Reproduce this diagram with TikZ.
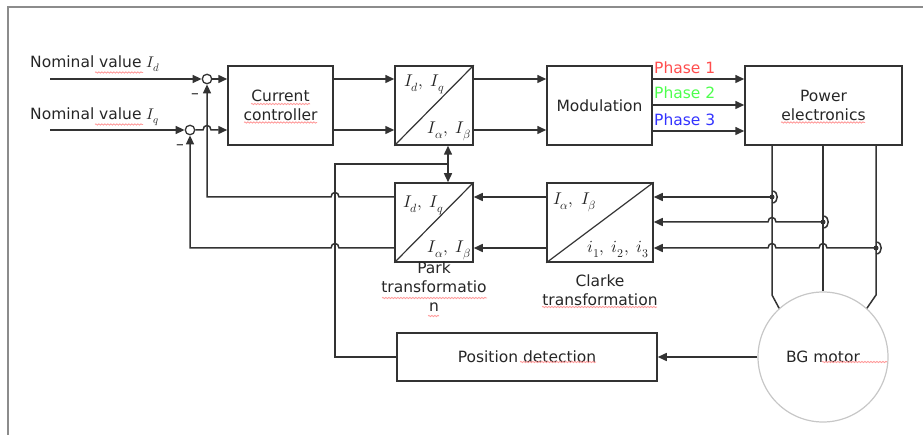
\documentclass[tikz,border=0pt]{standalone}
\usepackage{fontspec}
\usepackage{unicode-math}
\setmainfont{DejaVu Sans}
\setmathfont{Latin Modern Math}
\usetikzlibrary{arrows.meta,decorations.pathmorphing}
\definecolor{ink}{HTML}{333333}
\definecolor{ph1}{HTML}{FF4D4D}
\definecolor{ph2}{HTML}{4DFF4D}
\definecolor{ph3}{HTML}{3333FF}
\begin{document}
\begin{tikzpicture}[x=1pt,y=-1pt,
  ln/.style={draw=ink, line width=1.5pt},
  arr/.style={ln, -{Triangle[length=9pt,width=8pt]}},
  darr/.style={ln, {Triangle[length=9pt,width=8pt]}-{Triangle[length=9pt,width=8pt]}},
  blk/.style={draw=ink, line width=1.5pt, rectangle, inner sep=0pt, text=black!85,
    font=\fontsize{15.5}{18.5}\selectfont, align=center},
  sumc/.style={circle, draw=ink, line width=1.3pt, fill=white, minimum size=9.5pt, inner sep=0pt},
  txt/.style={font=\fontsize{15.5}{19}\selectfont, inner sep=0pt, text=black!85},
  mth/.style={font=\fontsize{17}{20}\selectfont, inner sep=0pt, text=black!85},
  dot/.style={circle, fill=ink, minimum size=5pt, inner sep=0pt},
  diag/.style={draw=ink, line width=1.2pt},
  spell/.style={draw=red!40, line width=0.8pt, decorate,
    decoration={snake, amplitude=0.7pt, segment length=3pt}}
]
\useasboundingbox (0,0) rectangle (923,435);
% frame
\draw[black!45, line width=1.5pt] (8,435) -- (8,7) -- (923,7);

% blocks
\node[sumc] (sum1) at (207,79) {};
\node[sumc] (sum2) at (190,130) {};
\node[blk, minimum width=105pt, minimum height=79pt] (cc) at (280.5,105.5) {Current\\controller};
\node[blk, minimum width=78pt, minimum height=79pt] (ipark) at (434,105.5) {};
\node[blk, minimum width=105pt, minimum height=79pt] (mod) at (599.5,105.5) {Modulation};
\node[blk, minimum width=157pt, minimum height=79pt] (pe) at (823.5,105.5) {Power\\electronics};
\node[blk, minimum width=78pt, minimum height=79pt] (park) at (434,222.5) {};
\node[blk, minimum width=106pt, minimum height=79pt] (clarke) at (600,222.5) {};
\node[blk, minimum width=260pt, minimum height=48pt] (pos) at (527,357) {Position detection};
\node[circle, draw=black!22, line width=1.2pt, minimum size=130pt, inner sep=0pt, text=black!85,
  font=\fontsize{15.5}{18.5}\selectfont] (motor) at (823,357) {BG motor};

% diagonals
\draw[diag] (ipark.south west) -- (ipark.north east);
\draw[diag] (park.south west) -- (park.north east);
\draw[diag] (clarke.south west) -- (clarke.north east);

% math labels
\node[mth, anchor=base west] (ip1) at (404,87) {$I_d,\;I_q$};
\node[mth, anchor=base east] (ip2) at (471,134) {$I_\alpha,\;I_\beta$};
\node[mth, anchor=base west] (pk1) at (403,208) {$I_d,\;I_q$};
\node[mth, anchor=base east] (pk2) at (471,253) {$I_\alpha,\;I_\beta$};
\node[mth, anchor=base west] (cl1) at (553,205) {$I_\alpha,\;I_\beta$};
\node[mth, anchor=base east] (cl2) at (649,253) {$i_1,\;i_2,\;i_3$};

% texts
\node[txt, anchor=base west] (nv1) at (30,68) {Nominal value $I_d$};
\node[txt, anchor=base west] (nv2) at (30,120) {Nominal value $I_q$};
\node[txt] (m1) at (195,96) {–};
\node[txt] (m2) at (180,147) {–};
\node[txt, anchor=base west, text=ph1] (p1) at (654,74) {Phase 1};
\node[txt, anchor=base west, text=ph2] (p2) at (654,99) {Phase 2};
\node[txt, anchor=base west, text=ph3] (p3) at (654,126) {Phase 3};
\node[txt, align=center, anchor=north] (parkl) at (434,262) {Park\\transformatio\\n};
\node[txt, align=center, anchor=north] (clarkel) at (600,275) {Clarke\\transformation};

% spell-check underlines
\draw[spell] (95,72.5) -- (143,72.5);
\draw[spell] (95,124.5) -- (143,124.5);
\draw[spell] (251,104) -- (310,104);
\draw[spell] (244,122.5) -- (317,122.5);
\draw[spell] (781,122.5) -- (865,122.5);
\draw[spell] (382,298) -- (487,298);
\draw[spell] (428,316) -- (439,316);
\draw[spell] (542,307) -- (657,307);
\draw[spell] (520,362) -- (596,362);
\draw[spell] (822,362) -- (887,362);

% coordinates
\coordinate (in1) at (50,79);
\coordinate (in2) at (50,130);
\coordinate (ax) at (448,0);
\coordinate (pd) at (335,164);
\coordinate (s1) at (772,197);
\coordinate (s2) at (823,222);
\coordinate (s3) at (876,248);

% inputs
\draw[arr] (in1) -- (sum1.west);
\draw[arr] (in2) -- (sum2.west);
\draw[arr] (sum1.east) -- (sum1 -| cc.west);
\draw[arr] (sum2.east) -- (203,130) .. controls (203,124) and (211,124) .. (211,130) -- (sum2 -| cc.west);

% forward path
\draw[arr] (cc.east |- sum1) -- (ipark.west |- sum1);
\draw[arr] (cc.east |- sum2) -- (ipark.west |- sum2);
\draw[arr] (ipark.east |- sum1) -- (mod.west |- sum1);
\draw[arr] (ipark.east |- sum2) -- (mod.west |- sum2);
\draw[arr] (mod.east |- 0,79) -- (pe.west |- 0,79);
\draw[arr] (mod.east |- 0,105) -- (pe.west |- 0,105);
\draw[arr] (mod.east |- 0,131) -- (pe.west |- 0,131);

% angle
\draw[darr] (ipark.south -| ax) -- (park.north -| ax);
\draw[ln] (pos.west) -| (pd) -- (pd -| ax);

% motor phase lines
\draw[ln] (pe.south -| s1) -- (772,295) -- (motor.132);
\draw[ln] (pe.south -| s2) -- (motor.north);
\draw[ln] (pe.south -| s3) -- (876,295) -- (motor.48);

% sensors
\draw[ln] (772,191) .. controls (779,191) and (779,203) .. (772,203);
\draw[ln] (823,216) .. controls (830,216) and (830,228) .. (823,228);
\draw[ln] (876,242) .. controls (883,242) and (883,254) .. (876,254);
\node[dot] (d1) at (s1) {};
\node[dot] (d2) at (s2) {};
\node[dot] (d3) at (s3) {};
\draw[arr] (s1) -- (s1 -| clarke.east);
\draw[arr] (s2) -- (776,222) .. controls (776,216) and (768,216) .. (768,222) -- (s2 -| clarke.east);
\draw[arr] (s3) -- (827,248) .. controls (827,242) and (819,242) .. (819,248)
  -- (776,248) .. controls (776,242) and (768,242) .. (768,248) -- (s3 -| clarke.east);

% clarke -> park
\draw[arr] (clarke.west |- s1) -- (park.east |- s1);
\draw[arr] (clarke.west |- s3) -- (park.east |- s3);

% feedback
\draw[arr] (park.west |- s1) -- (339,197) .. controls (339,191) and (331,191) .. (331,197)
  -- (207,197) -- (sum1.south);
\draw[arr] (park.west |- s3) -- (339,248) .. controls (339,242) and (331,242) .. (331,248)
  -- (190,248) -- (sum2.south);

% position
\draw[arr] (motor.west) -- (pos.east);
\end{tikzpicture}
\end{document}
